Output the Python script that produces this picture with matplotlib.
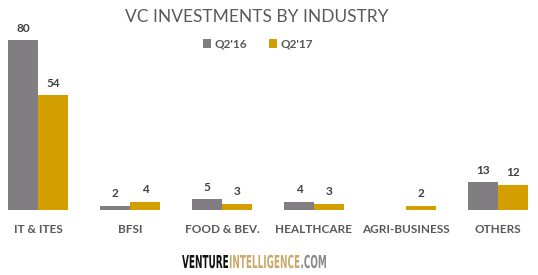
import matplotlib
matplotlib.use("Agg")
import matplotlib.pyplot as plt
import numpy as np
from matplotlib.textpath import TextPath
from matplotlib.patches import PathPatch
from matplotlib.font_manager import FontProperties
from matplotlib.transforms import Affine2D

# data
categories = ["IT & ITES", "BFSI", "FOOD & BEV.", "HEALTHCARE", "AGRI-BUSINESS", "OTHERS"]
q2_16 = [80, 2, 5, 4, 0, 13]
q2_17 = [54, 4, 3, 3, 2, 12]
series_names = ["Q2'16", "Q2'17"]

GRAY = "#807e80"
GOLD = "#d39e00"
TEXT = "#595959"

plt.rcParams['font.family'] = ['Lato', 'DejaVu Sans']

fig = plt.figure(figsize=(5.38, 2.75), dpi=100)
ax = fig.add_axes([0, 65 / 275, 1, 170 / 275])

x = np.arange(len(categories))
w = 0.326
b1 = ax.bar(x - w / 2, q2_16, w, color=GRAY, label=series_names[0])
b2 = ax.bar(x + w / 2, q2_17, w, color=GOLD, label=series_names[1])

for bars, vals in ((b1, q2_16), (b2, q2_17)):
    for r, v in zip(bars, vals):
        if v == 0:
            continue
        ax.text(r.get_x() + r.get_width() / 2, v + 3, str(v), ha="center", va="bottom",
                fontsize=8.5, fontweight="bold", color="#404040")

ax.set_xlim((0 - 38) / 92, (538 - 38) / 92)
ax.set_ylim(0, 80)
ax.set_xticks(x)
ax.set_xticklabels(categories, fontsize=8.5, fontweight="bold", color=TEXT)
ax.tick_params(axis="x", length=0, pad=10)
ax.set_yticks([])
for s in ax.spines.values():
    s.set_visible(False)
ax.patch.set_alpha(0)

fig.text(257 / 538, 1 - 17 / 275, "VC INVESTMENTS BY INDUSTRY", ha="center", va="center",
         fontsize=12.5, color=TEXT)

leg = fig.legend(handles=[b1, b2], labels=series_names, loc="center",
                 bbox_to_anchor=(258 / 538, 1 - 44 / 275),
                 ncol=2, frameon=False, fontsize=8.5, handlelength=0.7, handleheight=0.7,
                 handletextpad=0.3, columnspacing=1.8)
for t in leg.get_texts():
    t.set_color(TEXT)
    t.set_fontweight("bold")

# footer logo, drawn as condensed text paths (pixel coordinates)
foot = ["VENTURE", "INTELLIGENCE", ".COM"]
foot_colors = ["#111111", "#c9a96b", "#8a8a8a"]
fp = FontProperties(family="DejaVu Sans", weight="bold")
cap = 13.0        # cap height in px
squeeze = 0.50    # horizontal condensing
paths = [TextPath((0, 0), s, size=cap / 0.73, prop=fp) for s in foot]
widths = [p.get_extents().x1 * squeeze for p in paths]
gap = 1.0
total = sum(widths) + gap * (len(widths) - 1)
x0 = 254 - total / 2
baseline = 275 - 268
for p, c, wd in zip(paths, foot_colors, widths):
    tr = Affine2D().scale(squeeze, 1).translate(x0, baseline)
    patch = PathPatch(tr.transform_path(p), color=c, lw=0, transform=None)
    fig.add_artist(patch)
    x0 += wd + gap

fig.savefig("out.png", dpi=100)
